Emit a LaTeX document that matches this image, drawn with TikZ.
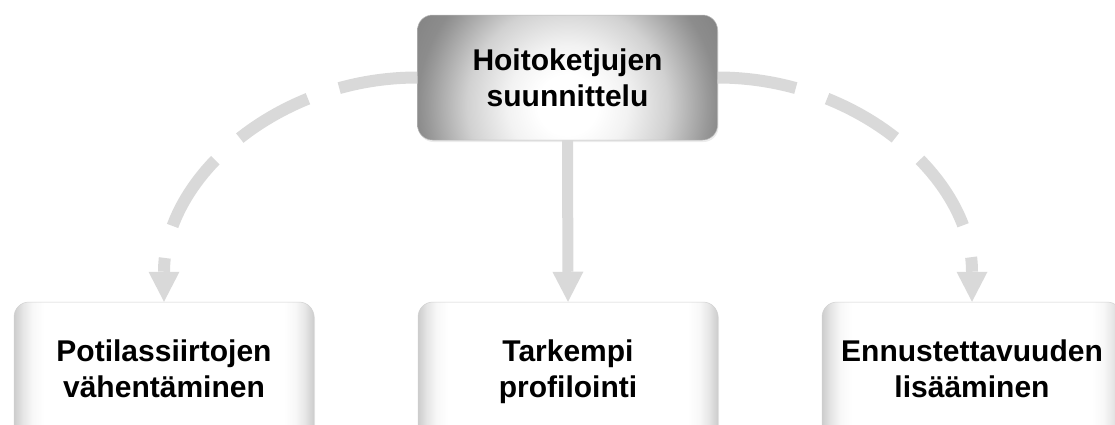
\documentclass[tikz,border=0pt]{standalone}
\usepackage{fontspec}
\setmainfont{Liberation Sans}
\usetikzlibrary{arrows.meta,shadows}
% the inner 50bp x 50bp square of a shading is fitted to the shaded path
\pgfdeclareradialshading{topshade}{\pgfpointorigin}{color(0bp)=(white); color(5bp)=(white); color(10bp)=(black!5); color(16.7bp)=(black!18); color(23.3bp)=(black!40); color(25bp)=(black!45); color(30bp)=(black!49); color(100bp)=(black!49)}
\pgfdeclarehorizontalshading{boxshade}{100bp}{color(0bp)=(black!20); color(25bp)=(black!20); color(26.5bp)=(black!10); color(28bp)=(black!3); color(30bp)=(white); color(70bp)=(white); color(72bp)=(black!3); color(73.5bp)=(black!10); color(75bp)=(black!20); color(100bp)=(black!20)}
\definecolor{conncol}{HTML}{D9D9D9}
\begin{document}
\begin{tikzpicture}[x=1pt,y=-1pt,
  boxbase/.style={rounded corners=15pt, minimum width=300pt, align=center,
    font=\fontsize{30}{36}\selectfont\bfseries, inner sep=0pt,
    draw=black!28, line width=0.5pt,
    drop shadow={opacity=0.15, shadow xshift=1pt, shadow yshift=-2pt}},
  topbox/.style={boxbase, minimum height=125pt, fill=white,
    path picture={\shade[shading=topshade]
      ([xshift=-150pt,yshift=-177.5pt]path picture bounding box.center) rectangle
      ([xshift=150pt,yshift=122.5pt]path picture bounding box.center);}},
  botbox/.style={boxbase, minimum height=140pt, shade, shading=boxshade, draw=black!18},
  conn/.style={conncol, line width=12pt,
    -{Triangle[width=31pt,length=30pt,line width=0pt]}},
  arcconn/.style={conn, dash pattern=on 79pt off 33pt}
]
\useasboundingbox (0,0) rectangle (1115,424);

\node[topbox] (top) at (567.5,77.5) {Hoitoketjujen\\suunnittelu};
\node[botbox] (left) at (164,372) {Potilassiirtojen\\vähentäminen\vphantom{p}};
\node[botbox] (mid) at (568,372) {Tarkempi\\profilointi\vphantom{p}};
\node[botbox] (right) at (972,372) {Ennustettavuuden\\lisääminen\vphantom{p}};

\draw[arcconn] (top.west) .. controls +(-140,0) and +(0,-124) .. (left.north);
\draw[arcconn] (top.east) .. controls +(140,0) and +(0,-124) .. (right.north);
\draw[conn, line width=11pt] (top.south) -- (mid.north);
\end{tikzpicture}
\end{document}
